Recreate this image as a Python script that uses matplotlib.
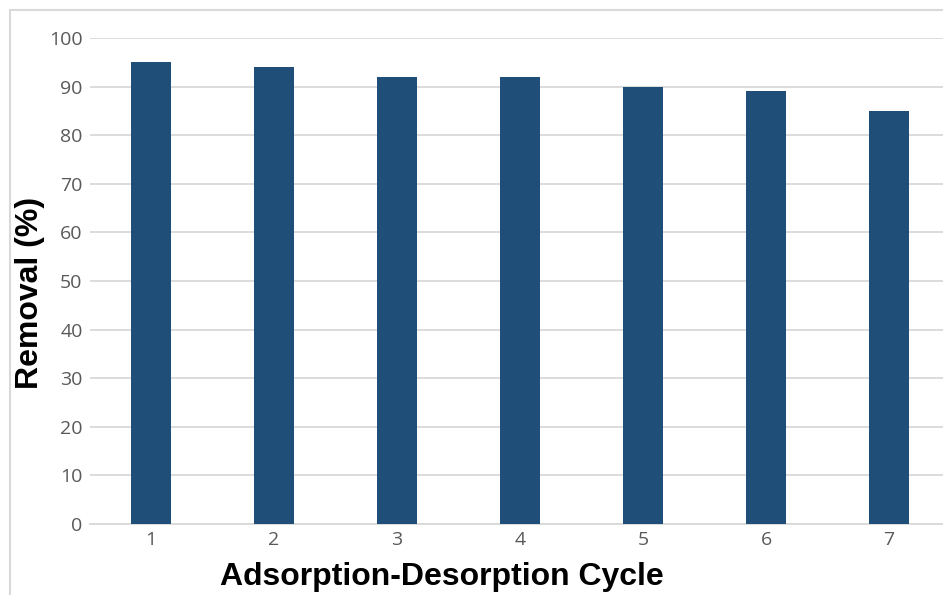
import matplotlib.pyplot as plt
from matplotlib.lines import Line2D

# Removal efficiency over repeated adsorption-desorption cycles
cycles = ['1', '2', '3', '4', '5', '6', '7']
removal = [95, 94, 92, 92, 90, 89, 85]
yticks = list(range(0, 101, 10))

bar_color = '#1f4e79'
grid_color = '#d9d9d9'
tick_color = '#595959'

fig = plt.figure(figsize=(9.43, 5.95), dpi=100)
W, H = 943, 595

# plot area in pixel coords, converted to figure fractions
left, right, top, bottom = 89.5, 950.5, 38, 524
ax = fig.add_axes([left / W, (H - bottom) / H, (right - left) / W, (bottom - top) / H])

x = range(len(cycles))
ax.bar(x, removal, width=0.33, color=bar_color, zorder=3)

ax.set_xlim(-0.5, len(cycles) - 0.5)
ax.set_ylim(0, 100)
ax.set_yticks(yticks)
ax.set_xticks(list(x))
ax.set_xticklabels(cycles)
ax.yaxis.grid(True, color=grid_color, linewidth=1.3, zorder=0)
ax.set_axisbelow(True)

for s in ['top', 'right', 'left']:
    ax.spines[s].set_visible(False)
ax.spines['bottom'].set_color(grid_color)
ax.spines['bottom'].set_linewidth(1.3)

ax.tick_params(axis='both', length=0, colors=tick_color, labelsize=14)
ax.tick_params(axis='y', pad=5)
ax.tick_params(axis='x', pad=5)
for lbl in ax.get_xticklabels() + ax.get_yticklabels():
    lbl.set_fontfamily('Open Sans')

ax.set_xlabel('Adsorption-Desorption Cycle', fontsize=23, fontweight='bold',
              family='Liberation Sans', color='black')
ax.set_ylabel('Removal (%)', fontsize=23, fontweight='bold',
              family='Liberation Sans', color='black')
ax.xaxis.label.set_va('center')
ax.yaxis.label.set_va('center')
ax.xaxis.set_label_coords(0.409, -0.109)
ax.yaxis.set_label_coords(-0.069, 0.475)

# light outer chart border
fig.add_artist(Line2D([10 / W, 10 / W], [0, (H - 10) / H], color=grid_color, linewidth=1.5))
fig.add_artist(Line2D([10 / W, 1], [(H - 10) / H, (H - 10) / H], color=grid_color, linewidth=1.5))

fig.savefig('out.png', dpi=100)
